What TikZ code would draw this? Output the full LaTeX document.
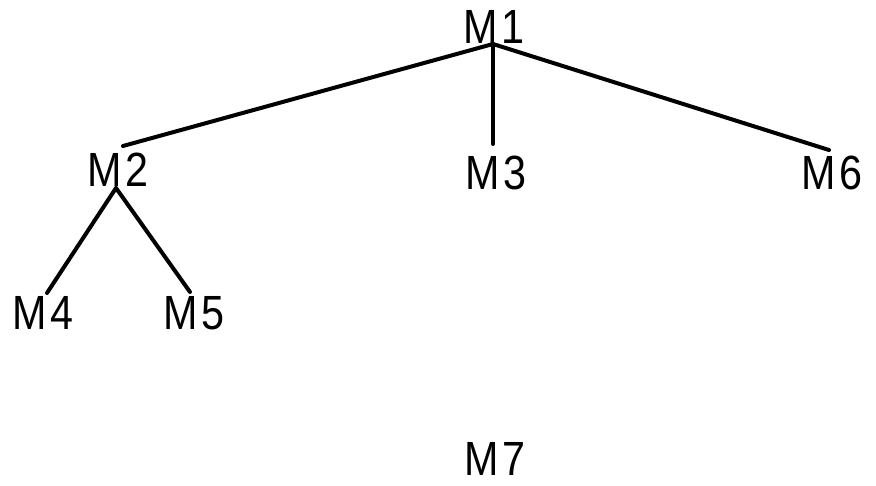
\documentclass[tikz,border=0pt]{standalone}
\usepackage{fontspec}
\newfontfamily\plotfont[FakeStretch=0.86,LetterSpace=6]{Liberation Sans}
\begin{document}
\begin{tikzpicture}[x=1pt,y=-1pt,
  lbl/.style={inner sep=0pt,anchor=base,font=\plotfont\fontsize{48}{50}\selectfont},
  edge/.style={line width=4pt,line cap=round}]
\useasboundingbox[fill=white] (0,0) rectangle (876,486);
\node[lbl] (m1) at (494,44) {M1};
\node[lbl] (m2) at (118,187) {M2};
\node[lbl] (m3) at (496,190) {M3};
\node[lbl] (m6) at (832,190) {M6};
\node[lbl] (m4) at (43,330) {M4};
\node[lbl] (m5) at (194,330) {M5};
\node[lbl] (m7) at (495,475) {M7};
\coordinate (p1) at (493,44);
\coordinate (p2t) at (123,146);
\coordinate (p2b) at (116,188);
\coordinate (p3) at (493,144);
\coordinate (p6) at (829,150);
\coordinate (p4) at (47,293);
\coordinate (p5) at (190,292);
\draw[edge] (p1) -- (p2t);
\draw[edge] (p1) -- (p3);
\draw[edge] (p1) -- (p6);
\draw[edge] (p2b) -- (p4);
\draw[edge] (p2b) -- (p5);
\end{tikzpicture}
\end{document}
